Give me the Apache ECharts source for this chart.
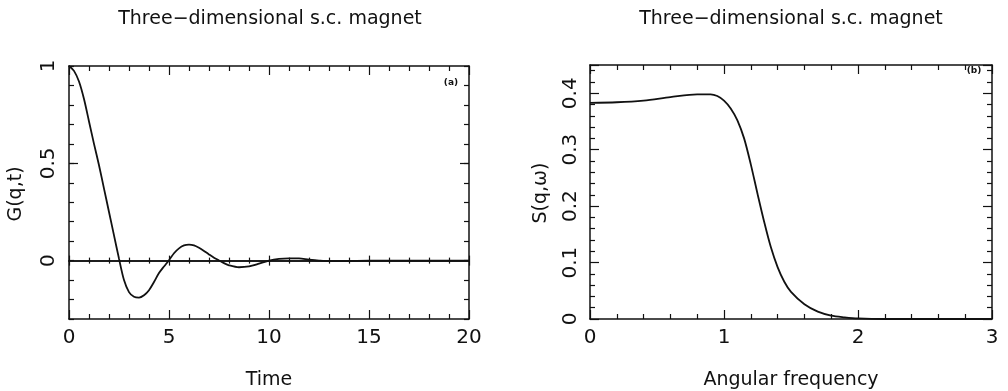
<!DOCTYPE html>
<html>
<head>
<meta charset="utf-8">
<script src="https://cdn.jsdelivr.net/npm/echarts@6/dist/echarts.min.js"></script>
<style>
  html, body { margin: 0; padding: 0; background: #fff; }
  #chart { width: 1008px; height: 391px; }
</style>
</head>
<body>
<div id="chart"></div>
<script>
// panel (a): time correlation G(q,t)
var timeVals = [0, 0.25, 0.5, 0.75, 1, 1.25, 1.5, 1.75, 2, 2.25, 2.5, 2.75, 3, 3.25, 3.5, 3.75, 4, 4.25, 4.5, 4.75, 5, 5.25, 5.5, 5.75, 6, 6.25, 6.5, 6.75, 7, 7.25, 7.5, 7.75, 8, 8.5, 9, 9.5, 10, 10.5, 11, 11.5, 12, 12.5, 13, 14, 15, 20];
var gVals = [1, 0.975, 0.92, 0.83, 0.715, 0.6, 0.49, 0.37, 0.25, 0.13, 0.01, -0.1, -0.162, -0.186, -0.19, -0.178, -0.152, -0.11, -0.064, -0.03, 0.002, 0.038, 0.063, 0.078, 0.082, 0.078, 0.066, 0.05, 0.032, 0.015, 0.001, -0.013, -0.024, -0.034, -0.03, -0.016, 0, 0.009, 0.012, 0.011, 0.005, 0, -0.003, -0.002, 0, 0];
// panel (b): spectral function S(q,w)
var omegaVals = [0, 0.2, 0.4, 0.6, 0.8, 0.9, 0.95, 1, 1.05, 1.1, 1.15, 1.2, 1.25, 1.3, 1.35, 1.4, 1.45, 1.5, 1.6, 1.7, 1.8, 1.9, 2, 2.2, 3];
var sVals = [0.383, 0.384, 0.387, 0.393, 0.398, 0.398, 0.395, 0.387, 0.373, 0.352, 0.32, 0.274, 0.222, 0.172, 0.127, 0.092, 0.066, 0.048, 0.026, 0.013, 0.006, 0.003, 0.001, 0, 0];
var gTickLabels = [0, 0.5, 1];
var sTickLabels = [0, 0.1, 0.2, 0.3, 0.4];

var FONT = 'DejaVu Sans';
var INK = '#111';

function pairs(xs, ys) {
  return xs.map(function (x, i) { return [x, ys[i]]; });
}

// plain framed axis, ticks pointing inwards
function frameAxis(extra) {
  var base = {
    type: 'value',
    axisLine: { show: true, onZero: false, lineStyle: { color: INK, width: 1.5 } },
    axisTick: { show: true, inside: true, length: 9, lineStyle: { color: INK, width: 1.2 } },
    minorTick: { show: true, splitNumber: 5, length: 5, lineStyle: { color: INK, width: 1.2 } },
    axisLabel: { show: false, color: INK, fontFamily: FONT, fontSize: 20 },
    splitLine: { show: false }
  };
  return Object.assign(base, extra);
}

function pick(list) {
  return function (v) {
    for (var i = 0; i < list.length; i++) {
      if (Math.abs(v - list[i]) < 1e-9) return String(list[i]);
    }
    return '';
  };
}

function txt(x, y, s, size, rot, weight) {
  return {
    type: 'text', x: x, y: y, rotation: rot || 0,
    style: { text: s, fill: INK, fontFamily: FONT, fontSize: size, fontWeight: weight || 'normal', align: 'center', verticalAlign: 'middle' }
  };
}

var myChart = echarts.init(document.getElementById('chart'));

myChart.setOption({
  animation: false,
  backgroundColor: '#fff',
  grid: [
    { left: 69, top: 66, width: 400, height: 253 },
    { left: 69, top: 66, width: 400, height: 253 },   // overlay for the zero line
    { left: 590, top: 65, width: 402, height: 254 }
  ],
  xAxis: [
    frameAxis({ gridIndex: 0, position: 'bottom', min: 0, max: 20, interval: 5,
      axisLabel: { show: true, color: INK, fontFamily: FONT, fontSize: 20, margin: 9 } }),
    frameAxis({ gridIndex: 0, position: 'top', min: 0, max: 20, interval: 5 }),
    frameAxis({ gridIndex: 1, position: 'bottom', min: 0, max: 20, interval: 5,
      axisLine: { show: true, onZero: true, lineStyle: { color: INK, width: 1.5 } },
      axisTick: { show: true, inside: true, length: 5, lineStyle: { color: INK, width: 1.2 } },
      minorTick: { show: true, splitNumber: 5, length: 3, lineStyle: { color: INK, width: 1.2 } } }),
    frameAxis({ gridIndex: 1, position: 'top', min: 0, max: 20, interval: 5,
      axisLine: { show: true, onZero: true, lineStyle: { color: INK, width: 1.5 } },
      axisTick: { show: true, inside: true, length: 5, lineStyle: { color: INK, width: 1.2 } },
      minorTick: { show: true, splitNumber: 5, length: 3, lineStyle: { color: INK, width: 1.2 } } }),
    frameAxis({ gridIndex: 2, position: 'bottom', min: 0, max: 3, interval: 1,
      axisLabel: { show: true, color: INK, fontFamily: FONT, fontSize: 20, margin: 9 } }),
    frameAxis({ gridIndex: 2, position: 'top', min: 0, max: 3, interval: 1 })
  ],
  yAxis: [
    frameAxis({ gridIndex: 0, position: 'left', min: -0.3, max: 1, interval: 0.1,
      axisTick: { show: true, inside: true, length: 5, lineStyle: { color: INK, width: 1.2 } },
      minorTick: { show: false },
      axisLabel: { show: true, color: INK, fontFamily: FONT, fontSize: 20, rotate: 90, margin: 10, formatter: pick(gTickLabels) } }),
    frameAxis({ gridIndex: 0, position: 'right', min: -0.3, max: 1, interval: 0.1,
      axisTick: { show: true, inside: true, length: 5, lineStyle: { color: INK, width: 1.2 } },
      minorTick: { show: false } }),
    frameAxis({ gridIndex: 1, position: 'left', min: -0.3, max: 1, interval: 0.1,
      axisLine: { show: false, onZero: false },
      axisTick: { show: true, inside: true, length: 9, customValues: [0.5], lineStyle: { color: INK, width: 1.2 } },
      minorTick: { show: false } }),
    frameAxis({ gridIndex: 1, position: 'right', min: -0.3, max: 1, interval: 0.1,
      axisLine: { show: false, onZero: false },
      axisTick: { show: true, inside: true, length: 9, customValues: [0.5], lineStyle: { color: INK, width: 1.2 } },
      minorTick: { show: false } }),
    frameAxis({ gridIndex: 2, position: 'left', min: 0, max: 0.45, interval: 0.1,
      axisLabel: { show: true, color: INK, fontFamily: FONT, fontSize: 20, rotate: 90, margin: 9, formatter: pick(sTickLabels) } }),
    frameAxis({ gridIndex: 2, position: 'right', min: 0, max: 0.45, interval: 0.1 })
  ],
  series: [
    {
      type: 'line', xAxisIndex: 0, yAxisIndex: 0,
      data: pairs(timeVals, gVals),
      showSymbol: false, smooth: 0.3,
      lineStyle: { color: INK, width: 1.8 }
    },
    {
      type: 'line', xAxisIndex: 4, yAxisIndex: 4,
      data: pairs(omegaVals, sVals),
      showSymbol: false, smooth: 0.3,
      lineStyle: { color: INK, width: 1.8 }
    }
  ],
  graphic: [
    txt(270, 19, 'Three\u2212dimensional s.c. magnet', 19),
    txt(791, 19, 'Three\u2212dimensional s.c. magnet', 19),
    txt(269, 380, 'Time', 19),
    txt(791, 380, 'Angular frequency', 19),
    txt(16, 194, 'G(q,t)', 19, Math.PI / 2),
    txt(541, 193, 'S(q,\u03c9)', 19, Math.PI / 2),
    txt(451, 83, '(a)', 9, 0, 'bold'),
    txt(974, 71, '(b)', 9, 0, 'bold')
  ]
});
</script>
</body>
</html>
